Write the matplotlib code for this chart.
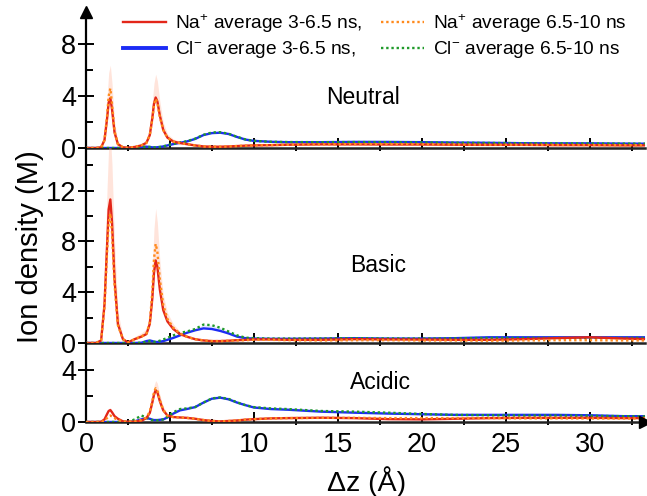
import matplotlib
matplotlib.use("Agg")
import matplotlib.pyplot as plt
from matplotlib.ticker import FixedLocator
from matplotlib.lines import Line2D

plt.rcParams['font.family'] = ['Liberation Sans', 'DejaVu Sans']
plt.rcParams['mathtext.fontset'] = 'custom'
plt.rcParams['mathtext.rm'] = 'Liberation Sans'
plt.rcParams['mathtext.it'] = 'Liberation Sans:italic'
plt.rcParams['mathtext.bf'] = 'Liberation Sans:bold'

# ---------------- data ----------------
dz = [0.0, 0.6, 0.9, 1.1, 1.25, 1.35, 1.45, 1.55, 1.7, 1.9, 2.2, 2.5, 2.9, 3.3, 3.6, 3.8,
      3.95, 4.05, 4.15, 4.25, 4.4, 4.6, 4.85, 5.2, 5.6, 6.0, 6.5, 7.0, 7.5, 8.0, 8.5, 9.0,
      9.5, 10.0, 11.0, 12.0, 14.0, 16.0, 18.0, 20.0, 22.0, 24.0, 26.0, 28.0, 30.0, 32.0, 33.5]

# Neutral
neu_na_a = [0, 0, 0.05, 0.6, 2.2, 3.5, 3.85, 3.0, 1.2, 0.3, 0.05, 0.02, 0.08, 0.2, 0.4, 1.0,
            2.3, 3.4, 3.9, 3.6, 2.5, 1.4, 0.8, 0.5, 0.38, 0.3, 0.2, 0.12, 0.1, 0.1, 0.12, 0.15,
            0.18, 0.2, 0.22, 0.25, 0.28, 0.28, 0.27, 0.27, 0.25, 0.24, 0.24, 0.22, 0.22, 0.2, 0.2]
neu_na_b = [0, 0, 0.05, 0.6, 2.4, 4.0, 4.6, 3.4, 1.3, 0.3, 0.05, 0.02, 0.08, 0.2, 0.4, 1.0,
            2.2, 3.3, 3.8, 3.5, 2.4, 1.4, 0.8, 0.5, 0.38, 0.3, 0.2, 0.12, 0.1, 0.1, 0.12, 0.15,
            0.18, 0.2, 0.22, 0.25, 0.28, 0.3, 0.3, 0.28, 0.27, 0.25, 0.25, 0.24, 0.23, 0.22, 0.22]
neu_na_hi = [0, 0, 0.1, 1.0, 3.8, 5.8, 6.4, 5.0, 2.0, 0.5, 0.1, 0.05, 0.15, 0.3, 0.6, 1.6,
             3.6, 5.0, 5.7, 5.2, 3.6, 2.0, 1.1, 0.7, 0.5, 0.4, 0.3, 0.2, 0.15, 0.15, 0.17, 0.2,
             0.23, 0.25, 0.27, 0.3, 0.33, 0.34, 0.33, 0.32, 0.3, 0.29, 0.29, 0.27, 0.27, 0.25, 0.25]
neu_cl_a = [0, 0, 0, 0, 0, 0, 0, 0, 0, 0, 0, 0, 0.03, 0.08, 0.1, 0.08,
            0.05, 0.05, 0.05, 0.06, 0.08, 0.12, 0.2, 0.3, 0.4, 0.5, 0.7, 1.0, 1.15, 1.18, 1.08, 0.85,
            0.65, 0.55, 0.48, 0.45, 0.45, 0.47, 0.47, 0.45, 0.42, 0.4, 0.37, 0.36, 0.36, 0.34, 0.33]
neu_cl_b = [0, 0, 0, 0, 0, 0, 0, 0, 0, 0, 0, 0, 0.03, 0.08, 0.1, 0.08,
            0.05, 0.05, 0.05, 0.06, 0.08, 0.12, 0.22, 0.32, 0.42, 0.52, 0.72, 1.02, 1.2, 1.22, 1.1, 0.86,
            0.66, 0.55, 0.48, 0.46, 0.45, 0.46, 0.45, 0.43, 0.41, 0.39, 0.37, 0.36, 0.35, 0.34, 0.33]

# Basic
bas_na_a = [0, 0, 0.2, 3.0, 7.5, 10.5, 11.3, 9.5, 5.0, 1.5, 0.3, 0.05, 0.3, 0.5, 0.7, 1.5,
            3.5, 5.5, 6.5, 6.0, 4.2, 2.6, 1.7, 1.1, 0.7, 0.5, 0.3, 0.2, 0.15, 0.15, 0.18, 0.22,
            0.25, 0.28, 0.28, 0.25, 0.25, 0.3, 0.28, 0.27, 0.25, 0.25, 0.3, 0.38, 0.45, 0.35, 0.3]
bas_na_b = [0, 0, 0.2, 2.8, 7.0, 9.5, 10.2, 8.7, 4.6, 1.4, 0.3, 0.05, 0.3, 0.5, 0.75, 1.6,
            4.0, 6.6, 7.8, 7.2, 5.0, 3.0, 1.9, 1.2, 0.75, 0.5, 0.3, 0.2, 0.15, 0.15, 0.18, 0.2,
            0.22, 0.25, 0.25, 0.22, 0.2, 0.22, 0.22, 0.2, 0.2, 0.18, 0.2, 0.22, 0.22, 0.2, 0.2]
bas_na_hi = [0, 0, 0.4, 5.0, 12.0, 15.5, 16.5, 14.0, 8.0, 2.5, 0.5, 0.1, 0.5, 0.8, 1.1, 2.5,
             6.0, 9.0, 10.6, 9.5, 6.5, 3.8, 2.4, 1.5, 0.9, 0.6, 0.4, 0.3, 0.25, 0.25, 0.28, 0.32,
             0.35, 0.38, 0.38, 0.35, 0.35, 0.4, 0.38, 0.37, 0.35, 0.35, 0.4, 0.48, 0.55, 0.45, 0.4]
bas_cl_a = [0, 0, 0, 0, 0, 0, 0, 0, 0, 0, 0, 0, 0, 0.02, 0.15, 0.2,
            0.15, 0.1, 0.08, 0.08, 0.1, 0.15, 0.25, 0.4, 0.6, 0.8, 1.0, 1.15, 1.1, 0.95, 0.75, 0.5,
            0.38, 0.35, 0.33, 0.33, 0.35, 0.38, 0.35, 0.35, 0.38, 0.45, 0.45, 0.45, 0.45, 0.45, 0.45]
bas_cl_b = [0, 0, 0, 0, 0, 0, 0, 0, 0, 0, 0, 0, 0, 0.02, 0.1, 0.15,
            0.12, 0.1, 0.1, 0.12, 0.18, 0.28, 0.4, 0.6, 0.8, 0.9, 1.1, 1.45, 1.4, 1.2, 0.9, 0.6,
            0.42, 0.38, 0.35, 0.35, 0.36, 0.38, 0.36, 0.35, 0.37, 0.4, 0.4, 0.4, 0.4, 0.4, 0.4]

# Acidic
aci_na_a = [0, 0, 0.02, 0.2, 0.6, 0.85, 0.92, 0.75, 0.45, 0.25, 0.05, 0.02, 0.03, 0.1, 0.3, 0.7,
            1.5, 2.1, 2.45, 2.3, 1.6, 0.9, 0.5, 0.38, 0.35, 0.32, 0.25, 0.15, 0.08, 0.05, 0.08, 0.12,
            0.18, 0.22, 0.28, 0.3, 0.33, 0.3, 0.22, 0.2, 0.25, 0.3, 0.32, 0.32, 0.32, 0.3, 0.3]
aci_na_b = [0, 0, 0.02, 0.1, 0.3, 0.45, 0.5, 0.42, 0.3, 0.15, 0.05, 0.02, 0.05, 0.15, 0.35, 0.8,
            1.6, 2.3, 2.6, 2.45, 1.7, 0.95, 0.5, 0.38, 0.35, 0.32, 0.25, 0.15, 0.08, 0.05, 0.08, 0.12,
            0.18, 0.22, 0.28, 0.3, 0.32, 0.32, 0.3, 0.3, 0.3, 0.3, 0.28, 0.28, 0.27, 0.27, 0.27]
aci_na_hi = [0, 0, 0.05, 0.3, 0.8, 1.05, 1.1, 0.9, 0.55, 0.3, 0.08, 0.04, 0.06, 0.2, 0.45, 1.0,
             2.0, 2.8, 3.2, 3.0, 2.1, 1.2, 0.65, 0.45, 0.4, 0.36, 0.3, 0.2, 0.12, 0.1, 0.12, 0.16,
             0.22, 0.26, 0.32, 0.34, 0.37, 0.35, 0.3, 0.28, 0.3, 0.34, 0.36, 0.36, 0.36, 0.34, 0.34]
aci_cl_a = [0, 0, 0, 0, 0, 0, 0, 0, 0, 0, 0, 0, 0.05, 0.2, 0.3, 0.25,
            0.18, 0.15, 0.15, 0.15, 0.17, 0.2, 0.35, 0.65, 0.9, 1.0, 1.15, 1.5, 1.8, 1.88, 1.75, 1.5,
            1.3, 1.12, 1.0, 0.95, 0.8, 0.72, 0.65, 0.6, 0.55, 0.55, 0.55, 0.55, 0.52, 0.45, 0.45]
aci_cl_b = [0, 0, 0, 0, 0, 0, 0, 0, 0, 0, 0, 0, 0.2, 0.5, 0.35, 0.2,
            0.15, 0.12, 0.12, 0.13, 0.15, 0.2, 0.4, 0.75, 1.0, 1.05, 1.15, 1.5, 1.82, 1.9, 1.78, 1.52,
            1.3, 1.15, 1.05, 1.0, 0.85, 0.8, 0.72, 0.62, 0.55, 0.52, 0.5, 0.5, 0.48, 0.45, 0.42]

labels = [r"Na$^{+}$ average 3-6.5 ns,", r"Cl$^{-}$ average 3-6.5 ns,",
          r"Na$^{+}$ average 6.5-10 ns", r"Cl$^{-}$ average 6.5-10 ns"]
panel_names = ["Neutral", "Basic", "Acidic"]

# ---------------- style ----------------
C_NA = "#e32619"
C_NA2 = "#ff8a1c"
C_CL = "#1c2cf5"
C_CL2 = "#1f9a2a"
C_BAND = "#ffb49a"
C_CLBAND = "#9aa6ff"

W, H = 647, 496
fig = plt.figure(figsize=(W / 100, H / 100), dpi=100)

left = 86 / W
width = (645 - 86) / W
rects = {
    "Neutral": [left, (H - 148) / H, width, 136 / H],
    "Basic": [left, (H - 343) / H, width, 195 / H],
    "Acidic": [left, (H - 422) / H, width, 79 / H],
}
ylims = {"Neutral": 10.5, "Basic": 15.35, "Acidic": 6.1}
ymaj = {"Neutral": [0, 4, 8], "Basic": [0, 4, 8, 12], "Acidic": [0, 4]}
ymin = {"Neutral": [2, 6], "Basic": [2, 6, 10, 14], "Acidic": [2]}
text_pos = {"Neutral": (0.4955, 0.375), "Basic": (0.522, 0.40), "Acidic": (0.526, 0.494)}

data = {
    "Neutral": (neu_na_a, neu_na_b, neu_na_hi, neu_cl_a, neu_cl_b),
    "Basic": (bas_na_a, bas_na_b, bas_na_hi, bas_cl_a, bas_cl_b),
    "Acidic": (aci_na_a, aci_na_b, aci_na_hi, aci_cl_a, aci_cl_b),
}

axes = {}
for name in panel_names:
    ax = fig.add_axes(rects[name])
    ax.patch.set_alpha(0)
    axes[name] = ax
    na_a, na_b, na_hi, cl_a, cl_b = data[name]
    ax.fill_between(dz, na_a, na_hi, color=C_BAND, alpha=0.35, lw=0)
    ax.fill_between(dz, cl_a, cl_b, color=C_CLBAND, alpha=0.25, lw=0)
    ax.plot(dz, cl_a, color=C_CL, lw=1.7, zorder=3)
    ax.plot(dz, cl_b, color=C_CL2, lw=1.7, ls=(0, (1, 1.2)), zorder=4)
    ax.plot(dz, na_a, color=C_NA, lw=1.7, zorder=5)
    ax.plot(dz, na_b, color=C_NA2, lw=1.7, ls=(0, (1, 1.2)), zorder=6)

    ax.set_xlim(0, 33.3)
    ax.set_ylim(0, ylims[name])
    for s in ("top", "right"):
        ax.spines[s].set_visible(False)
    ax.spines["left"].set_linewidth(1.6)
    ax.spines["bottom"].set_linewidth(1.8)
    ax.spines["bottom"].set_color("#222222")
    ax.set_xticks([0, 5, 10, 15, 20, 25, 30])
    ax.xaxis.set_minor_locator(FixedLocator([2.5, 7.5, 12.5, 17.5, 22.5, 27.5, 32.5]))
    ax.set_yticks(ymaj[name])
    ax.yaxis.set_minor_locator(FixedLocator(ymin[name]))
    ax.tick_params(axis="x", which="major", direction="in", length=7.5, width=1.4, pad=7,
                   labelsize=19.5)
    ax.tick_params(axis="x", which="minor", direction="inout", length=5, width=1.4)
    ax.tick_params(axis="y", which="major", direction="inout", length=12, width=1.4, pad=1,
                   labelsize=19.5)
    ax.tick_params(axis="y", which="minor", direction="in", length=5, width=1.4)
    if name != "Acidic":
        ax.tick_params(axis="x", labelbottom=False)
    tx, ty = text_pos[name]
    ax.text(tx, ty, name, transform=ax.transAxes, ha="center", va="center", fontsize=16.5)

# arrows
axes["Neutral"].plot([0], [1.0], marker="^", color="k", ms=9, transform=axes["Neutral"].transAxes,
                     clip_on=False, zorder=10)
axes["Acidic"].plot([1.0], [0], marker=">", color="k", ms=9, transform=axes["Acidic"].transAxes,
                    clip_on=False, zorder=10)

fig.text(30 / W, 1 - 247 / H, "Ion density (M)", rotation=90, ha="center", va="center",
         fontsize=21)
fig.text(367 / W, 1 - 482 / H, "Δz (Å)", ha="center", va="center", fontsize=20.5)

handles = [Line2D([], [], color=C_NA, lw=1.7),
           Line2D([], [], color=C_CL, lw=2.8),
           Line2D([], [], color=C_NA2, lw=1.7, ls=(0, (1, 1.2))),
           Line2D([], [], color=C_CL2, lw=1.7, ls=(0, (1, 1.2)))]
fig.legend(handles, labels, ncol=2, loc="upper left", bbox_to_anchor=(123 / W, 1 - 12 / H),
           frameon=False, fontsize=13.8, handlelength=2.25, handletextpad=0.45,
           columnspacing=1.0, labelspacing=0.25, borderpad=0, borderaxespad=0)

fig.savefig("out.png", dpi=100)
